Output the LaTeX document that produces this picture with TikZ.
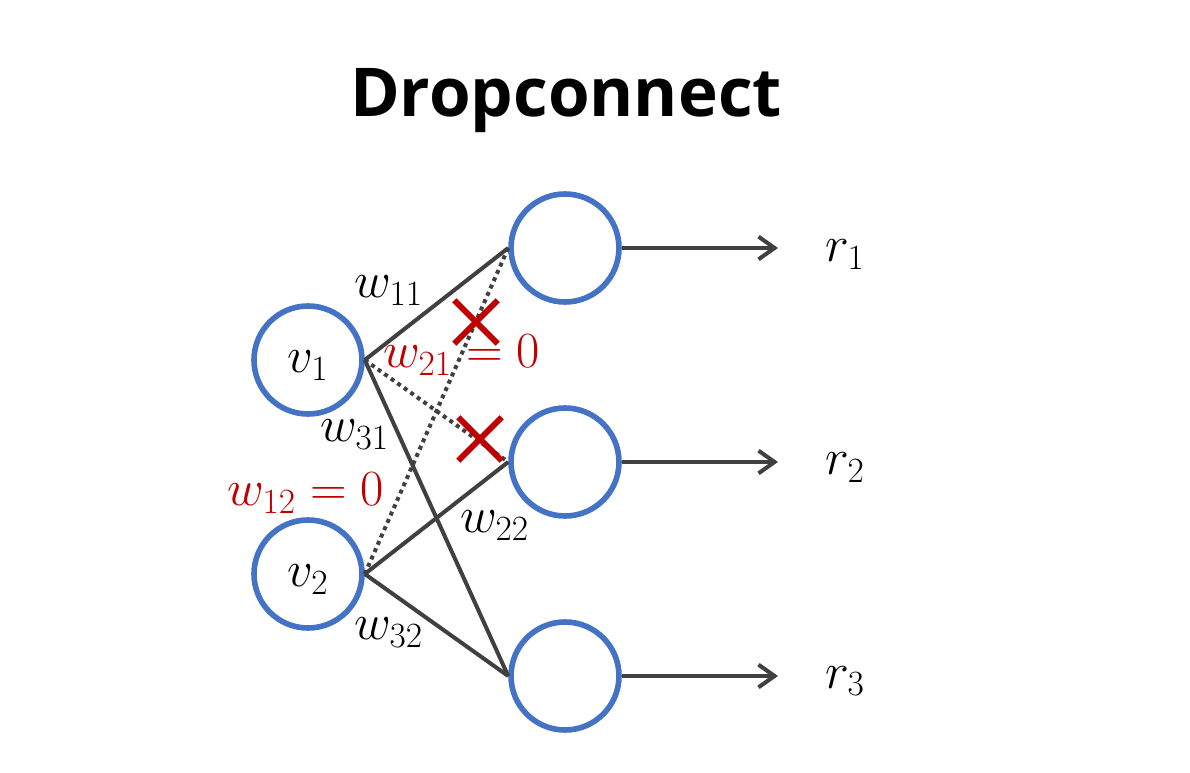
\RequirePackage{fix-cm}
\documentclass[tikz,border=0pt]{standalone}
\usepackage{fontspec}
\newfontfamily\titlefont{Open Sans}[BoldFont={Open Sans Bold}]
\usetikzlibrary{arrows.meta,shapes.misc}
\definecolor{cblue}{HTML}{4472C4}
\definecolor{cgray}{HTML}{404040}
\definecolor{cred}{HTML}{C00000}
\begin{document}
\begin{tikzpicture}[x=0.75pt,y=-0.75pt,
 neuron/.style={circle,draw=cblue,line width=4.2pt,minimum size=81pt,inner sep=0pt},
 conn/.style={draw=cgray,line width=3pt},
 drop/.style={draw=cgray,line width=3pt,dash pattern=on 3pt off 3pt},
 outarrow/.style={draw=cgray,line width=3pt,-{Straight Barb[length=12pt,width=17pt,line width=3pt]}},
 xmark/.style={cross out,draw=cred,line width=4.5pt,minimum size=28pt,inner sep=0pt},
 lbl/.style={anchor=base west,inner sep=0pt,font=\fontsize{38}{42}\selectfont,text=black},
 rlbl/.style={lbl,text=cred}]
\useasboundingbox (0,0) rectangle (1190,773);
\node[anchor=base,inner sep=0pt,font=\titlefont\bfseries\fontsize{50.5}{58}\selectfont] (title) at (566,117) {Dropconnect};
% neurons
\node[neuron] (v1) at (308,360) {};
\node[neuron] (v2) at (308,574) {};
\node[neuron] (h1) at (565,248) {};
\node[neuron] (h2) at (565,462) {};
\node[neuron] (h3) at (565,676) {};
% connections
\draw[conn] (v1.east) -- (h1.west);
\draw[conn] (v1.east) -- (h3.west);
\draw[conn] (v2.east) -- (h2.west);
\draw[conn] (v2.east) -- (h3.west);
\draw[drop] (v1.east) -- (h2.west);
\draw[drop] (v2.east) -- (h1.west);
% outputs
\coordinate (o1) at (778,248);
\coordinate (o2) at (778,462);
\coordinate (o3) at (778,676);
\draw[outarrow] (h1.east) -- (o1);
\draw[outarrow] (h2.east) -- (o2);
\draw[outarrow] (h3.east) -- (o3);
% cross marks
\node[xmark] (x1) at (476,322) {};
\node[xmark] (x2) at (480,439) {};
% labels
\node[lbl] (lv1) at (287,373) {$v_1$};
\node[lbl] (lv2) at (287,587) {$v_2$};
\node[lbl] (lw11) at (354,298) {$w_{11}$};
\node[rlbl] (lw21) at (383,368) {$w_{21}=0$};
\node[lbl] (lw31) at (320,442) {$w_{31}$};
\node[rlbl] (lw12) at (227,506) {$w_{12}=0$};
\node[lbl] (lw22) at (460,533) {$w_{22}$};
\node[lbl] (lw32) at (354,640) {$w_{32}$};
\node[lbl] (lr1) at (825,262) {$r_1$};
\node[lbl] (lr2) at (825,475) {$r_2$};
\node[lbl] (lr3) at (825,688) {$r_3$};
\end{tikzpicture}
\end{document}
